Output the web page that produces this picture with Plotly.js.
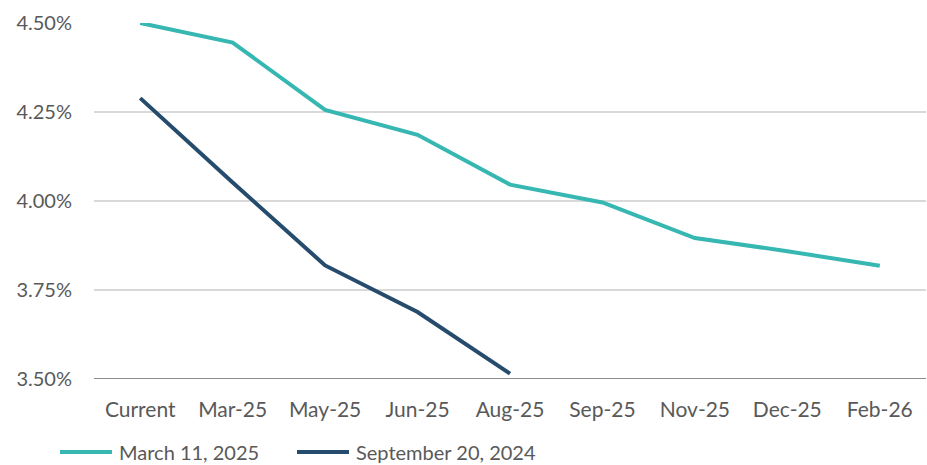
<!DOCTYPE html>
<html>
<head>
<meta charset="utf-8">
<script src="https://cdn.plot.ly/plotly-3.0.1.min.js"></script>
<style>html,body{margin:0;padding:0;background:#fff}#chart{width:927px;height:465px}</style>
</head>
<body>
<div id="chart"></div>
<script>
var categories = ["Current","Mar-25","May-25","Jun-25","Aug-25","Sep-25","Nov-25","Dec-25","Feb-26"];
var march2025 = [4.50, 4.445, 4.256, 4.186, 4.046, 3.996, 3.896, 3.859, 3.818];
var sept2024 = [4.289, 4.052, 3.819, 3.688, 3.515];
var sept2024Cats = categories.slice(0, sept2024.length);
var yTicks = [3.50, 3.75, 4.00, 4.25, 4.50];
var yTickText = ["3.50%","3.75%","4.00%","4.25%","4.50%"];
var seriesNames = ["March 11, 2025", "September 20, 2024"];
var seriesColors = ["#36B7B2", "#254C6D"];

var font = "Lato, 'Open Sans', sans-serif";
var fs = 20;
var traces = [
  {x: categories, y: march2025, name: seriesNames[0], type: "scatter", mode: "lines",
   line: {color: seriesColors[0], width: 4}},
  {x: sept2024Cats, y: sept2024, name: seriesNames[1], type: "scatter", mode: "lines",
   line: {color: seriesColors[1], width: 4}}
];

// legend drawn below the plot (paper coords relative to plot area)
var legY = -0.205;
var legItems = [{x0: -0.0409, x1: 0.0216, tx: 0.0288}, {x0: 0.244, x1: 0.3065, tx: 0.3137}];
var shapes = [{type: "line", xref: "paper", yref: "y", x0: 0, x1: 1, y0: 3.5, y1: 3.5,
            line: {color: "#8C8C8C", width: 2}, layer: "below"}];
var annotations = [];
legItems.forEach(function (it, i) {
  shapes.push({type: "line", xref: "paper", yref: "paper", x0: it.x0, x1: it.x1, y0: legY, y1: legY,
               line: {color: seriesColors[i], width: 4}});
  annotations.push({xref: "paper", yref: "paper", x: it.tx, y: legY, xanchor: "left", yanchor: "middle",
                    showarrow: false, text: seriesNames[i], borderpad: 0,
                    font: {family: font, size: fs, color: "#595959"}});
});

var layout = {
  width: 927, height: 465,
  margin: {l: 94, r: 1, t: 23, b: 86},
  paper_bgcolor: "#fff", plot_bgcolor: "#fff",
  font: {family: font, size: fs, color: "#595959"},
  showlegend: false,
  xaxis: {type: "category", categoryorder: "array", categoryarray: categories, range: [-0.5, 8.5],
          showgrid: false, showline: false, zeroline: false, ticks: "", ticklabelstandoff: 16,
          tickfont: {family: font, size: 21, color: "#595959"}, fixedrange: true},
  yaxis: {range: [3.5, 4.5], tickvals: yTicks, ticktext: yTickText, showgrid: true, gridcolor: "#D9D9D9", gridwidth: 1.5,
          zeroline: false, showline: false, ticks: "", ticklabelstandoff: 21,
          tickfont: {family: font, size: fs, color: "#595959"}, fixedrange: true},
  shapes: shapes,
  annotations: annotations
};
Plotly.newPlot("chart", traces, layout, {displayModeBar: false, staticPlot: true});
</script>
</body>
</html>
